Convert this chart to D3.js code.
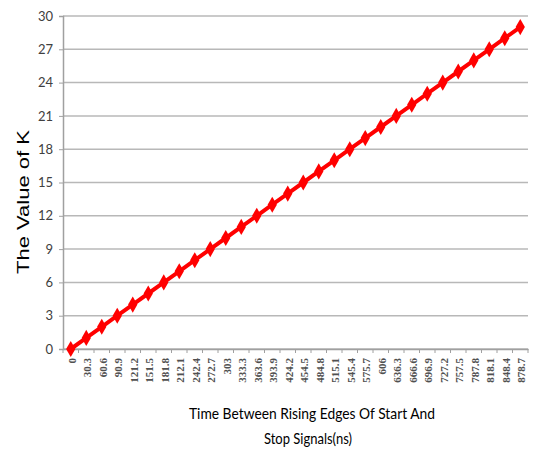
<!DOCTYPE html>
<html>
<head>
<meta charset="utf-8">
<script src="https://cdn.jsdelivr.net/npm/d3@7"></script>
<style>
  body { margin: 0; background: #fff; }
</style>
</head>
<body>
<div id="chart"></div>
<script>
var categories = ["0", "30.3", "60.6", "90.9", "121.2", "151.5", "181.8", "212.1", "242.4", "272.7",
                  "303", "333.3", "363.6", "393.9", "424.2", "454.5", "484.8", "515.1", "545.4", "575.7",
                  "606", "636.3", "666.6", "696.9", "727.2", "757.5", "787.8", "818.1", "848.4", "878.7"];
var kValues = [0, 1, 2, 3, 4, 5, 6, 7, 8, 9,
               10, 11, 12, 13, 14, 15, 16, 17, 18, 19,
               20, 21, 22, 23, 24, 25, 26, 27, 28, 29];
var yTicks = [0, 3, 6, 9, 12, 15, 18, 21, 24, 27, 30];

var w = 536;
var h = 449;
var padLeft = 63, padRight = 528, padTop = 16, padBottom = 349;

var svg = d3.select("#chart")
    .append("svg")
    .attr("width", w)
    .attr("height", h);

var xscale = d3.scaleBand()
    .domain(categories)
    .range([padLeft, padRight]);

var yscale = d3.scaleLinear()
    .domain([0, 30])
    .range([padBottom, padTop]);

// gridlines
svg.append("g")
    .selectAll("line")
    .data(yTicks)
    .enter()
    .append("line")
    .attr("x1", padLeft)
    .attr("x2", padRight)
    .attr("y1", function(d) { return yscale(d); })
    .attr("y2", function(d) { return yscale(d); })
    .attr("stroke", "#b8b8b8")
    .attr("stroke-width", 1.5);

// y axis
var yaxis = d3.axisLeft(yscale).tickValues(yTicks).tickSize(4).tickPadding(6);
var gy = svg.append("g")
    .attr("transform", "translate(" + padLeft + ",0)")
    .call(yaxis);
gy.select(".domain").attr("stroke", "#a0a0a0").attr("stroke-width", 1.5);
gy.selectAll(".tick line").attr("stroke", "#a0a0a0");
gy.selectAll("text")
    .attr("font-family", "Lato, sans-serif")
    .attr("font-size", "13px")
    .attr("fill", "#404040");

// x axis, ticks between categories
var xaxis = d3.axisBottom(xscale).tickSize(0).tickPadding(6);
var gx = svg.append("g")
    .attr("transform", "translate(0," + padBottom + ")")
    .call(xaxis);
gx.select(".domain").attr("stroke", "#a0a0a0").attr("stroke-width", 1.5);
gx.selectAll("text")
    .attr("font-family", "'Liberation Serif', serif")
    .attr("font-size", "11px")
    .attr("font-weight", "bold")
    .attr("fill", "#505050")
    .attr("text-anchor", "end")
    .attr("transform", "rotate(-90)")
    .attr("x", -9)
    .attr("y", 1)
    .attr("dy", "0.35em");

svg.append("g")
    .selectAll("line")
    .data(categories.concat(["end"]))
    .enter()
    .append("line")
    .attr("x1", function(d, i) { return padLeft + i * xscale.bandwidth(); })
    .attr("x2", function(d, i) { return padLeft + i * xscale.bandwidth(); })
    .attr("y1", padBottom)
    .attr("y2", padBottom + 4)
    .attr("stroke", "#a0a0a0");

// line
var line = d3.line()
    .x(function(d, i) { return xscale(categories[i]) + xscale.bandwidth() / 2; })
    .y(function(d) { return yscale(d); });

svg.append("path")
    .datum(kValues)
    .attr("d", line)
    .attr("fill", "none")
    .attr("stroke", "#ff0000")
    .attr("stroke-width", 4);

svg.append("g")
    .selectAll("path")
    .data(kValues)
    .enter()
    .append("path")
    .attr("d", d3.symbol().type(d3.symbolDiamond).size(75))
    .attr("transform", function(d, i) {
        return "translate(" + (xscale(categories[i]) + xscale.bandwidth() / 2) + "," + yscale(d) + ")";
    })
    .attr("fill", "#ff0000");

// axis titles
svg.append("text")
    .attr("transform", "translate(29,202) rotate(-90)")
    .attr("text-anchor", "middle")
    .attr("font-family", "'Liberation Sans', Arial, sans-serif")
    .attr("font-size", "17px")
    .attr("textLength", 144)
    .attr("lengthAdjust", "spacingAndGlyphs")
    .attr("fill", "#000")
    .text("The Value of K");

svg.append("text")
    .attr("x", 312)
    .attr("y", 419)
    .attr("text-anchor", "middle")
    .attr("font-family", "Lato, sans-serif")
    .attr("font-size", "15px")
    .attr("textLength", 246)
    .attr("lengthAdjust", "spacingAndGlyphs")
    .attr("fill", "#000")
    .text("Time Between Rising Edges Of Start And");

svg.append("text")
    .attr("x", 308)
    .attr("y", 444)
    .attr("text-anchor", "middle")
    .attr("font-family", "Lato, sans-serif")
    .attr("font-size", "15px")
    .attr("textLength", 88)
    .attr("lengthAdjust", "spacingAndGlyphs")
    .attr("fill", "#000")
    .text("Stop Signals(ns)");
</script>
</body>
</html>
